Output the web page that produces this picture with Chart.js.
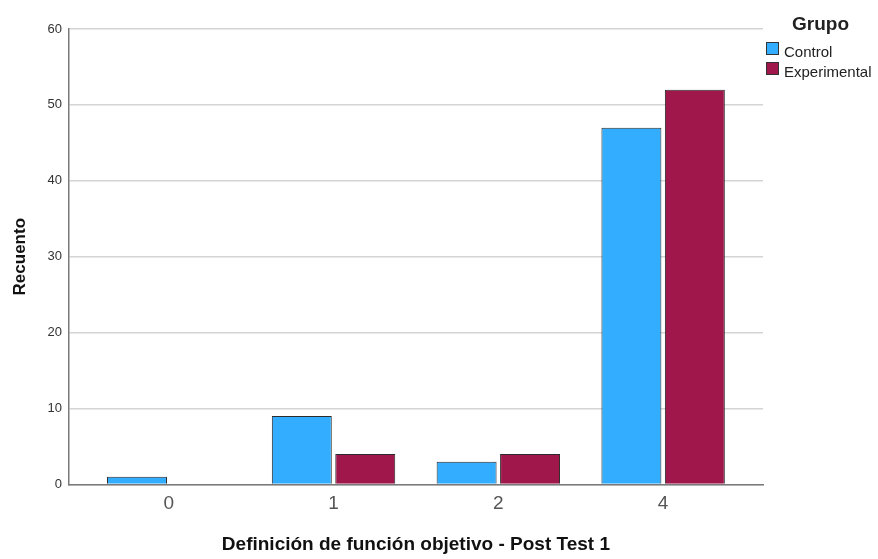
<!DOCTYPE html>
<html>
<head>
<meta charset="utf-8">
<script src="https://cdn.jsdelivr.net/npm/chart.js@4.4.1/dist/chart.umd.min.js"></script>
<style>
  html, body { margin: 0; padding: 0; background: #fff; }
  #wrap { position: relative; width: 878px; height: 559px; font-family: Arial, "Liberation Sans", sans-serif; }
  #legend { position: absolute; left: 766px; top: 0; color: #222; }
  #legend .ttl { position: absolute; left: 26px; top: 13px; font-weight: bold; font-size: 19px; white-space: nowrap; }
  #legend .item { position: absolute; left: 0; font-size: 15px; line-height: 14px; white-space: nowrap; }
  #legend .sw { display: inline-block; position: relative; top: -3px; width: 11px; height: 11px; border: 1px solid #333; vertical-align: -1px; margin-right: 5px; }
</style>
</head>
<body>
<div id="wrap">
  <canvas id="c" width="878" height="559"></canvas>
  <div id="legend"></div>
</div>
<script>
// values
const categories = ['0', '1', '2', '4'];
const groups = ['Control', 'Experimental'];
const controlCounts = [1, 9, 3, 47];
const experimentalCounts = [0, 4, 4, 52];
const yTicks = [0, 10, 20, 30, 40, 50, 60];

const COLORS = ['#33adff', '#a0174c'];
const GRID = '#d4d4d4';
const AXIS = '#7a7a7a';
const TEXT = '#333';

Chart.defaults.font.family = "Arial, 'Liberation Sans', sans-serif";
Chart.defaults.color = TEXT;

const series = [controlCounts, experimentalCounts];

new Chart(document.getElementById('c'), {
  type: 'bar',
  data: {
    datasets: series.map((vals, i) => ({
      label: groups[i],
      data: vals.map((v, j) => ({ x: j, y: v })),
      backgroundColor: COLORS[i],
      borderColor: '#2b2b2b',
      borderWidth: 1,
      categoryPercentage: 0.77,
      barPercentage: 0.945,
    }))
  },
  options: {
    responsive: false,
    animation: false,
    events: [],
    layout: { padding: { top: 29, right: 115, left: 10, bottom: 3 } },
    plugins: { legend: { display: false }, tooltip: { enabled: false } },
    scales: {
      x: {
        type: 'linear',
        offset: false,
        min: -0.606,
        max: 3.606,
        afterBuildTicks: s => { s.ticks = categories.map((_, i) => ({ value: i })); },
        ticks: {
          callback: v => categories[v],
          font: { size: 19 },
          color: '#555',
          padding: 8,
          maxRotation: 0,
        },
        grid: { display: false, drawTicks: false },
        border: { color: AXIS, width: 1.5 },
        title: {
          display: true,
          text: 'Definición de función objetivo - Post Test 1',
          font: { size: 19, weight: 'bold' },
          color: '#111',
          padding: { top: 10, bottom: 0 },
        },
      },
      y: {
        min: 0,
        max: 60,
        afterBuildTicks: s => { s.ticks = yTicks.map(v => ({ value: v })); },
        ticks: { font: { size: 13 }, color: TEXT, padding: 7 },
        grid: { color: GRID, lineWidth: 1.5, drawTicks: false },
        border: { color: AXIS, width: 1.5 },
        title: {
          display: true,
          text: 'Recuento',
          font: { size: 17, weight: 'bold' },
          color: '#111',
          padding: { top: 0, bottom: 10 },
        },
      }
    }
  }
});

// legend drawn as html, right of the plot
document.getElementById('legend').innerHTML =
  '<div class="ttl">Grupo</div>' +
  groups.map((g, i) =>
    `<div class="item" style="top:${45 + i * 20}px"><span class="sw" style="background:${COLORS[i]}"></span>${g}</div>`
  ).join('');
</script>
</body>
</html>
